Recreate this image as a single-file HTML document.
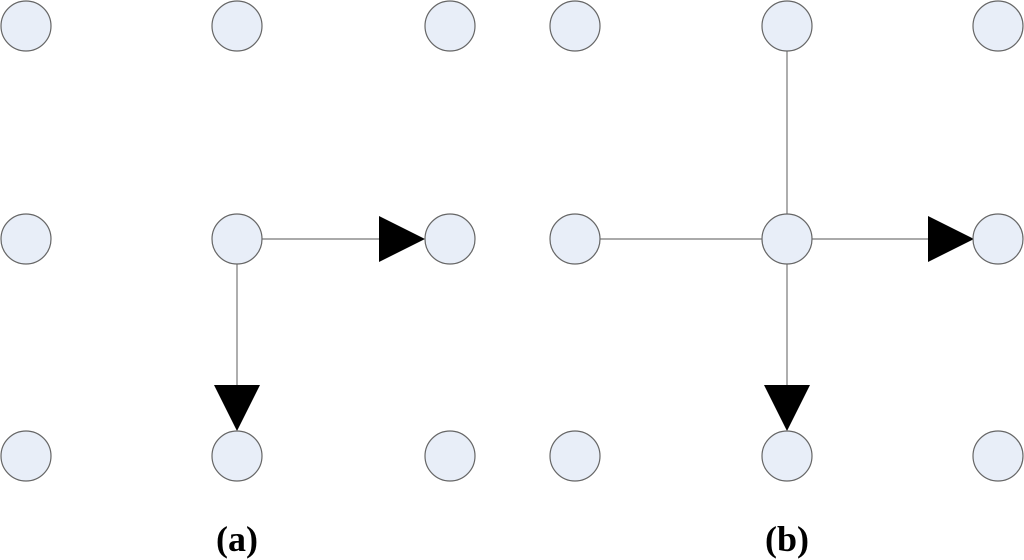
<!DOCTYPE html>
<html><head><style>html,body{margin:0;padding:0;background:#fff;}svg{display:block}</style></head>
<body>
<svg width="1024" height="560" viewBox="0 0 1024 560" xmlns="http://www.w3.org/2000/svg">
<g stroke="#777" stroke-width="1.2">
<line x1="262" y1="239" x2="380" y2="239"/>
<line x1="237" y1="264" x2="237" y2="386"/>
<line x1="600" y1="239" x2="762" y2="239"/>
<line x1="787" y1="51" x2="787" y2="214"/>
<line x1="812" y1="239" x2="930" y2="239"/>
<line x1="787" y1="264" x2="787" y2="386"/>
</g>
<g fill="#000">
<polygon points="379,216 379,262 425,239"/>
<polygon points="214,385 260,385 237,431"/>
<polygon points="928,216 928,262 974,239"/>
<polygon points="764,385 810,385 787,431"/>
</g>
<g fill="#e8eef8" stroke="#666" stroke-width="1.2">
<circle cx="26" cy="26" r="25"/><circle cx="237" cy="26" r="25"/><circle cx="450" cy="26" r="25"/>
<circle cx="26" cy="239" r="25"/><circle cx="237" cy="239" r="25"/><circle cx="450" cy="239" r="25"/>
<circle cx="26" cy="456" r="25"/><circle cx="237" cy="456" r="25"/><circle cx="450" cy="456" r="25"/>
<circle cx="575" cy="26" r="25"/><circle cx="787" cy="26" r="25"/><circle cx="998" cy="26" r="25"/>
<circle cx="575" cy="239" r="25"/><circle cx="787" cy="239" r="25"/><circle cx="998" cy="239" r="25"/>
<circle cx="575" cy="456" r="25"/><circle cx="787" cy="456" r="25"/><circle cx="998" cy="456" r="25"/>
</g>
<g font-family="Liberation Serif, serif" font-weight="bold" font-size="36" text-anchor="middle" fill="#000">
<text x="237" y="551">(a)</text>
<text x="787" y="551">(b)</text>
</g>
</svg>
</body></html>
